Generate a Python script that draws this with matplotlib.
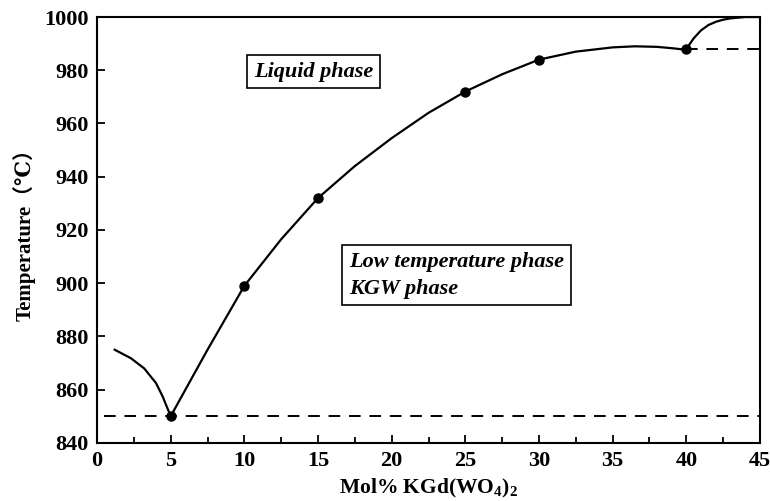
import matplotlib.pyplot as plt
import numpy as np

# values
pts_x = [5, 10, 15, 25, 30, 40]
pts_y = [850, 899, 932, 972, 984, 988]

left_x = [1.2, 2.3, 3.2, 4.0, 4.45, 5]
left_y = [875, 871.8, 868, 862.5, 857.5, 850]

liq_x = [5, 7.5, 10, 12.5, 15, 17.5, 20, 22.5, 25, 27.5, 30, 32.5, 35, 36.5, 38, 39, 40]
liq_y = [850, 875, 899, 916.5, 932, 944, 954.5, 964, 972, 978.5, 984, 987, 988.6, 989, 988.8, 988.3, 987.7]

top_x = [40, 40.5, 41, 41.5, 42, 42.5, 43, 44, 45]
top_y = [988, 992, 995, 997, 998.2, 999, 999.5, 1000, 1000]

eut_x = [0.5, 45]
eut_y = [850, 850]
per_x = [40, 45]
per_y = [988, 988]

plt.rcParams['font.family'] = ['Liberation Serif', 'DejaVu Serif', 'Noto Sans CJK SC']
plt.rcParams['font.weight'] = 'bold'
plt.rcParams['mathtext.fontset'] = 'custom'
plt.rcParams['mathtext.rm'] = 'Liberation Serif:bold'
plt.rcParams['mathtext.it'] = 'Liberation Serif:bold:italic'

fig = plt.figure(figsize=(7.7, 5.01), dpi=100)
ax = fig.add_axes([0.126, 0.116, 0.861, 0.85])

ax.plot(left_x, left_y, 'k', lw=1.6)
ax.plot(liq_x, liq_y, 'k', lw=1.6)
ax.plot(top_x, top_y, 'k', lw=1.6)
ax.plot(eut_x, eut_y, 'k', lw=1.4, dashes=(6, 4.5))
ax.plot(per_x, per_y, 'k', lw=1.4, dashes=(6, 4.5))
ax.plot(pts_x, pts_y, 'ko', ms=6.5)

ax.set_xlim(0, 45)
ax.set_ylim(840, 1000)
ax.set_xticks(np.arange(0, 46, 5))
ax.set_xticks(np.arange(2.5, 45, 5), minor=True)
ax.set_yticks(np.arange(840, 1001, 20))
ax.tick_params(direction='in', length=6, width=1.3, labelsize=16, pad=6)
ax.tick_params(which='minor', direction='in', length=4, width=1.3)
for s in ax.spines.values():
    s.set_linewidth(1.5)

ax.set_xlabel('Mol% KGd(WO$_4$)$_2$', fontsize=15.5, fontweight='bold', labelpad=4)
ax.set_ylabel('Temperature（℃）', fontsize=15, fontweight='bold', labelpad=6)

box = dict(boxstyle='square,pad=0.3', fc='white', ec='black', lw=1.2)
ax.text(14.7, 979.5, 'Liquid phase', fontsize=16, style='italic', ha='center', va='center', bbox=box)
ax.text(17.1, 903, 'Low temperature phase\nKGW phase', fontsize=16, style='italic',
        ha='left', va='center', linespacing=1.45, bbox=box)

fig.savefig('out.png', dpi=100)
